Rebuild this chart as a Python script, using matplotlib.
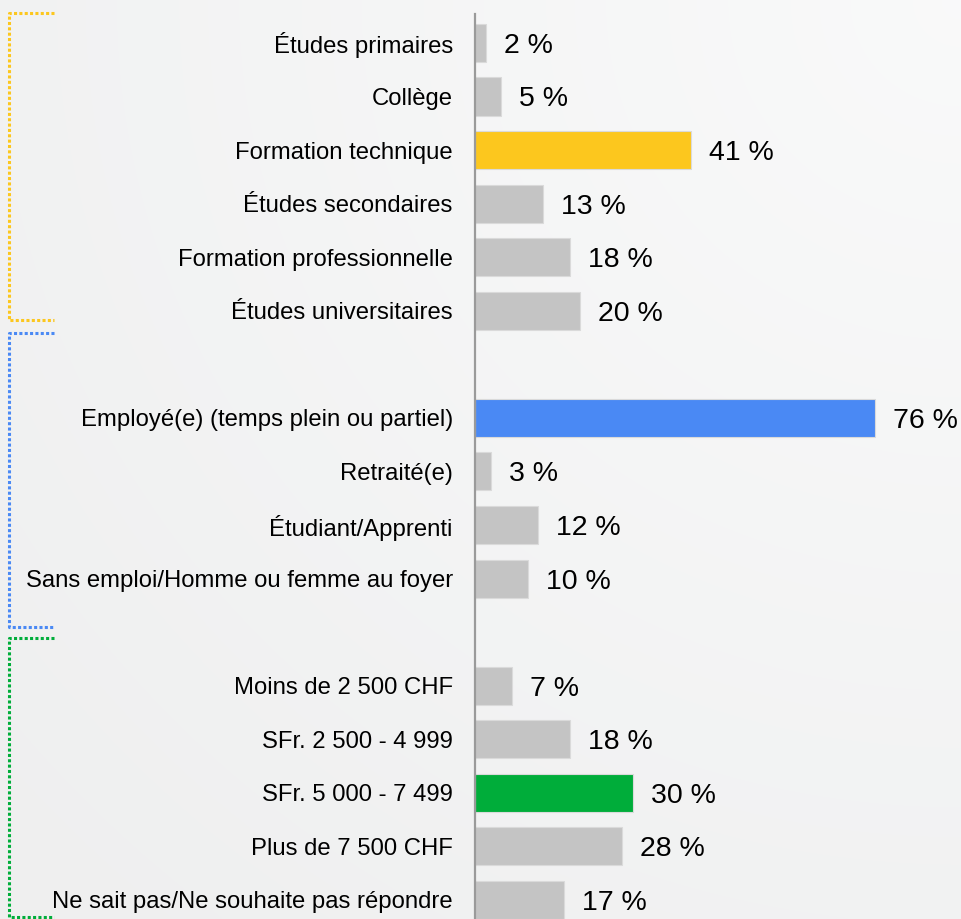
import numpy as np
import matplotlib
matplotlib.use('Agg')
import matplotlib.pyplot as plt
import matplotlib.transforms as mtransforms

# --- Data
education_labels = ['Études primaires', 'Collège', 'Formation technique',
                    'Études secondaires', 'Formation professionnelle', 'Études universitaires']
education_values = [2, 5, 41, 13, 18, 20]

employment_labels = ['Employé(e) (temps plein ou partiel)', 'Retraité(e)',
                     'Étudiant/Apprenti', 'Sans emploi/Homme ou femme au foyer']
employment_values = [76, 3, 12, 10]

income_labels = ['Moins de 2 500 CHF', 'SFr. 2 500 - 4 999', 'SFr. 5 000 - 7 499',
                 'Plus de 7 500 CHF', 'Ne sait pas/Ne souhaite pas répondre']
income_values = [7, 18, 30, 28, 17]

# highlighted item of each group
highlight = {'education': 2, 'employment': 0, 'income': 2}

c_gray = '#c4c4c4'
c_yellow = '#fcc71e'
c_blue = '#4a89f4'
c_green = '#00ad3a'
c_edge = '#dadada'

plt.rcParams['font.family'] = ['Liberation Sans', 'DejaVu Sans']

W, H = 962, 919
fig = plt.figure(figsize=(W/100, H/100), dpi=100)

# background: soft radial gradient, lighter top right
bg = fig.add_axes([0, 0, 1, 1], zorder=-10)
yy, xx = np.mgrid[0:1:400j, 0:1:400j]
r = np.sqrt((xx - 1.0)**2 + (yy - 0.0)**2)
grad = 0.978 - 0.04*np.clip(r/1.3, 0, 1)
rgb = np.dstack([grad, grad + 0.002, grad + 0.003]).clip(0, 1)
bg.imshow(rgb, aspect='auto', extent=[0, 1, 1, 0], interpolation='bilinear')
bg.set_axis_off()

# slots: groups separated by an empty row
groups = [(education_labels, education_values, c_yellow, highlight['education']),
          (employment_labels, employment_values, c_blue, highlight['employment']),
          (income_labels, income_values, c_green, highlight['income'])]

pos, labels, values, colors, spans = [], [], [], [], []
slot = 0
for labs, vals, col, ih in groups:
    start = slot
    for i, (l, v) in enumerate(zip(labs, vals)):
        pos.append(slot)
        labels.append(l)
        values.append(v)
        colors.append(col if i == ih else c_gray)
        slot += 1
    spans.append((start, slot - 1, col))
    slot += 1

pxpu = 5.26  # pixels per percent
left_px, top_px = 475, 14
ax = fig.add_axes([left_px/W, 0, 1 - left_px/W, 1 - top_px/H])
ax.set_facecolor('none')
ax.barh(pos, values, height=0.71, color=colors, edgecolor=c_edge, linewidth=0.8)
ax.set_xlim(0, (W - left_px)/pxpu)
ax.set_ylim(pos[-1] + 0.355, -0.54)

for p, v in zip(pos, values):
    ax.annotate(f'{v} %', (v, p), xytext=(13, 0), textcoords='offset points',
                va='center_baseline', ha='left', fontsize=20.5, color='black')

ax.set_yticks(pos)
ax.set_yticklabels(labels, fontsize=17.2)
ax.tick_params(axis='y', length=0, pad=16)
ax.set_xticks([])
for s in ['top', 'right', 'bottom']:
    ax.spines[s].set_visible(False)
ax.spines['left'].set_color('#9a9a9a')
ax.spines['left'].set_linewidth(1.6)

# dotted brackets on the left
trans = mtransforms.blended_transform_factory(fig.transFigure, ax.transData)
x0, x1 = 9/W, 54/W
bounds = [(-0.55, 5.18), (5.41, 10.9), (11.1, 16.32)]
for (y0, y1), (_, _, col) in zip(bounds, spans):
    ax.plot([x1, x0, x0, x1], [y0, y0, y1, y1], transform=trans, color=col,
            lw=2.2, linestyle=(0, (1, 0.75)), clip_on=False, solid_capstyle='butt')

fig.savefig('out.png', dpi=100)
